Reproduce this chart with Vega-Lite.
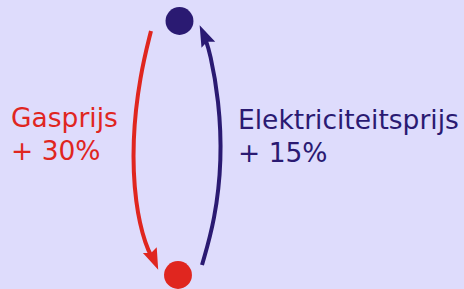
{
  "$schema": "https://vega.github.io/schema/vega-lite/v6.json",
  "width": 464,
  "height": 289,
  "padding": 0,
  "autosize": {"type": "none"},
  "background": "#dedcfc",
  "config": {"view": {"stroke": null}},
  "datasets": {
    "curves": [
      {"s": "gas", "o": 1, "x": 151, "y": 31},
      {"s": "gas", "o": 2, "x": 140, "y": 75},
      {"s": "gas", "o": 3, "x": 132, "y": 140},
      {"s": "gas", "o": 4, "x": 135, "y": 205},
      {"s": "gas", "o": 5, "x": 146, "y": 247},
      {"s": "gas", "o": 6, "x": 153, "y": 259},
      {"s": "el", "o": 1, "x": 202, "y": 265},
      {"s": "el", "o": 2, "x": 215, "y": 220},
      {"s": "el", "o": 3, "x": 222, "y": 160},
      {"s": "el", "o": 4, "x": 219, "y": 100},
      {"s": "el", "o": 5, "x": 210, "y": 52},
      {"s": "el", "o": 6, "x": 205, "y": 38}
    ],
    "heads": [
      {"s": "gas", "x": 154, "y": 260, "a": 157},
      {"s": "el", "x": 204, "y": 35, "a": 336}
    ],
    "dots": [
      {"s": "el", "x": 179.5, "y": 21},
      {"s": "gas", "x": 178, "y": 275}
    ],
    "labels": [
      {"s": "gas", "x": 11, "y": 127, "t": "Gasprijs"},
      {"s": "gas", "x": 11, "y": 160, "t": "+ 30%"},
      {"s": "el", "x": 238, "y": 129, "t": "Elektriciteitsprijs"},
      {"s": "el", "x": 238, "y": 162, "t": "+ 15%"}
    ]
  },
  "encoding": {
    "x": {"field": "x", "type": "quantitative", "scale": {"domain": [0, 464]}, "axis": null},
    "y": {"field": "y", "type": "quantitative", "scale": {"domain": [289, 0]}, "axis": null},
    "color": {"field": "s", "type": "nominal", "scale": {"domain": ["gas", "el"], "range": ["#e0261f", "#2a1a72"]}, "legend": null}
  },
  "layer": [
    {
      "data": {"name": "curves"},
      "mark": {"type": "line", "interpolate": "basis", "strokeWidth": 4, "strokeCap": "butt"},
      "encoding": {"order": {"field": "o", "type": "quantitative"}, "detail": {"field": "s"}}
    },
    {
      "data": {"name": "heads"},
      "mark": {"type": "point", "shape": "M0,-1L0.7,1L0,0.7L-0.7,1Z", "filled": true, "opacity": 1, "size": 460, "strokeWidth": 0},
      "encoding": {"angle": {"field": "a", "type": "quantitative", "scale": null}}
    },
    {
      "data": {"name": "dots"},
      "mark": {"type": "circle", "size": 780, "opacity": 1}
    },
    {
      "data": {"name": "labels"},
      "mark": {"type": "text", "align": "left", "baseline": "alphabetic", "font": "DejaVu Sans", "fontSize": 26.5},
      "encoding": {"text": {"field": "t"}}
    }
  ]
}
